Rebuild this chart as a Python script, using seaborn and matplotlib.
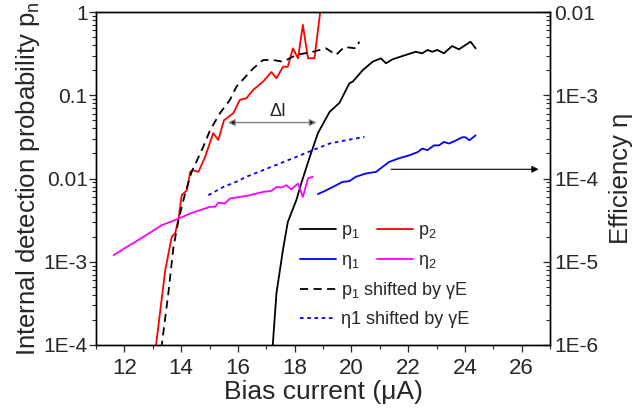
import numpy as np
import seaborn as sns
import matplotlib.pyplot as plt

# bias current (uA) and values
p1_x = [17.22, 17.36, 17.59, 17.76, 18.06, 18.24, 18.53, 18.82, 19.23, 19.58, 19.93, 20.05, 20.40,
        20.75, 21.04, 21.22, 21.45, 21.92, 22.27, 22.50, 22.68, 22.85, 23.03, 23.26, 23.55, 23.79,
        24.20, 24.38]
p1_y = [9e-5, 4.2e-4, 1.4e-3, 3.0e-3, 5.5e-3, 8.9e-3, 0.018, 0.035, 0.063, 0.081, 0.139, 0.146, 0.20,
        0.253, 0.278, 0.242, 0.27, 0.305, 0.333, 0.319, 0.35, 0.333, 0.35, 0.319, 0.39, 0.356,
        0.44, 0.366]

p2_x = [13.10, 13.44, 13.67, 13.79, 13.91, 14.02, 14.20, 14.32, 14.41, 14.61, 14.84, 15.13, 15.31,
        15.51, 15.84, 16.07, 16.30, 16.54, 16.89, 17.18, 17.36, 17.59, 17.76, 17.94, 18.12, 18.29,
        18.47, 18.70, 18.93]
p2_y = [9e-5, 7.9e-4, 2.0e-3, 2.2e-3, 3.3e-3, 6.3e-3, 7.2e-3, 0.012, 0.0126, 0.012, 0.018, 0.035, 0.029,
        0.050, 0.061, 0.088, 0.092, 0.116, 0.146, 0.19, 0.16, 0.22, 0.22, 0.366, 0.278, 0.70,
        0.278, 0.278, 1.2]

p1s_x = [13.30, 13.55, 13.73, 13.91, 14.14, 14.37, 14.78, 15.02, 15.37, 15.72, 15.95, 16.54, 16.89,
         17.24, 17.59, 18.06, 18.64, 19.11, 19.46, 19.75, 20.16, 20.28]
p1s_y = [9e-5, 4.2e-4, 1.5e-3, 3.2e-3, 6.6e-3, 0.012, 0.024, 0.038, 0.061, 0.088, 0.127, 0.21, 0.265,
         0.265, 0.253, 0.305, 0.333, 0.366, 0.305, 0.38, 0.366, 0.44]

eta1_x = [18.82, 19.11, 19.34, 19.69, 19.93, 20.16, 20.52, 20.87, 21.10, 21.33, 21.68, 22.04, 22.33,
          22.50, 22.68, 22.91, 23.09, 23.26, 23.44, 23.67, 23.91, 24.02, 24.16, 24.38]
eta1_y = [6.5e-5, 7.2e-5, 7.9e-5, 9.1e-5, 9.3e-5, 1.05e-4, 1.15e-4, 1.2e-4, 1.38e-4, 1.58e-4, 1.75e-4,
          1.9e-4, 2.07e-4, 2.29e-4, 2.19e-4, 2.5e-4, 2.5e-4, 2.75e-4, 2.63e-4, 2.85e-4, 3.13e-4,
          3.13e-4, 2.88e-4, 3.3e-4]

eta2_x = [11.62, 12.09, 12.68, 13.32, 13.91, 14.32, 14.67, 15.02, 15.20, 15.31, 15.54, 15.72, 16.07,
          16.42, 16.66, 16.89, 17.18, 17.36, 17.53, 17.71, 17.88, 18.12, 18.29, 18.47, 18.64]
eta2_y = [1.2e-5, 1.51e-5, 2.0e-5, 2.75e-5, 3.3e-5, 3.8e-5, 4.17e-5, 4.57e-5, 4.57e-5, 5.13e-5, 5.0e-5,
          5.75e-5, 6.0e-5, 6.3e-5, 6.6e-5, 6.9e-5, 7.1e-5, 7.9e-5, 7.8e-5, 8.3e-5, 7.4e-5, 8.7e-5,
          6.0e-5, 1.0e-4, 1.05e-4]

eta1s_x = [14.96, 15.48, 16.00, 16.30, 16.89, 17.47, 18.06, 18.64, 19.23, 19.81, 20.46]
eta1s_y = [6.3e-5, 7.9e-5, 9.3e-5, 1.05e-4, 1.26e-4, 1.51e-4, 1.82e-4, 2.19e-4, 2.63e-4, 2.88e-4, 3.16e-4]

left_ticks = [1e-4, 1e-3, 1e-2, 1e-1, 1]
left_labels = ['1E-4', '1E-3', '0.01', '0.1', '1']
right_ticks = [1e-6, 1e-5, 1e-4, 1e-3, 1e-2]
right_labels = ['1E-6', '1E-5', '1E-4', '1E-3', '0.01']
x_ticks = [12, 14, 16, 18, 20, 22, 24, 26]

sns.set_style('ticks')
plt.rcParams['font.family'] = ['Liberation Sans', 'DejaVu Sans']
plt.rcParams['mathtext.fontset'] = 'custom'
plt.rcParams['mathtext.rm'] = 'Liberation Sans'
plt.rcParams['mathtext.it'] = 'Liberation Sans:italic'

fig = plt.figure(figsize=(6.33, 4.2), dpi=100)
ax = fig.add_axes([96 / 633, 1 - 345 / 420, 454 / 633, 333 / 420])
ax2 = ax.twinx()

lw = 1.3
sns.lineplot(x=p1_x, y=p1_y, ax=ax, color='black', lw=lw, sort=False, estimator=None)
h_p1 = ax.lines[-1]
sns.lineplot(x=p2_x, y=p2_y, ax=ax, color='red', lw=lw, sort=False, estimator=None)
h_p2 = ax.lines[-1]
sns.lineplot(x=p1s_x, y=p1s_y, ax=ax, color='black', lw=lw, sort=False, estimator=None)
h_p1s = ax.lines[-1]
h_p1s.set_dashes([4.5, 3])

sns.lineplot(x=eta1_x, y=eta1_y, ax=ax2, color='blue', lw=lw, sort=False, estimator=None)
h_e1 = ax2.lines[-1]
sns.lineplot(x=eta2_x, y=eta2_y, ax=ax2, color='magenta', lw=lw, sort=False, estimator=None)
h_e2 = ax2.lines[-1]
sns.lineplot(x=eta1s_x, y=eta1s_y, ax=ax2, color='blue', lw=lw, sort=False, estimator=None)
h_e1s = ax2.lines[-1]
h_e1s.set_dashes([2, 2])

for a in (ax, ax2):
    a.set_xlim(11, 27)
    a.set_yscale('log')
ax.set_ylim(1e-4, 1)
ax2.set_ylim(1e-6, 1e-2)

ax.set_xticks(x_ticks)
ax.set_xticks(np.arange(11, 28, 1), minor=True)
ax.set_yticks(left_ticks, left_labels)
ax2.set_yticks(right_ticks, right_labels)

ax.tick_params(axis='x', which='major', direction='out', length=5, width=0.9, labelsize=16, pad=4)
ax.tick_params(axis='x', which='minor', direction='out', length=3, width=0.8)
ax.tick_params(axis='y', which='major', direction='out', length=5, width=0.9, labelsize=15, pad=1)
ax.tick_params(axis='y', which='minor', direction='out', length=3, width=0.8)
ax2.tick_params(axis='y', which='major', direction='in', length=5, width=0.9, labelsize=15, pad=3)
ax2.tick_params(axis='y', which='minor', direction='in', length=3, width=0.8)

for a in (ax, ax2):
    for s in a.spines.values():
        s.set_linewidth(1.0)
        s.set_color('black')

ax.set_xlabel('Bias current (\u03bcA)', fontsize=19, labelpad=1)
ax.set_ylabel('Internal detection probability p$_\\mathrm{n}$', fontsize=18.5, labelpad=1)
ax2.set_ylabel('Efficiency \u03b7', fontsize=18.5, labelpad=8)

# delta I arrow
ax.annotate('', xy=(15.65, 0.047), xytext=(18.77, 0.047),
            arrowprops=dict(arrowstyle='<|-|>', fc='black', ec='0.5', lw=1.0,
                            mutation_scale=10, shrinkA=0, shrinkB=0))
ax.text(17.4, 0.063, '\u0394I', fontsize=13, ha='center', va='center')
# arrow pointing to right axis
ax.annotate('', xy=(26.6, 0.0129), xytext=(21.4, 0.0129),
            arrowprops=dict(arrowstyle='-|>', fc='black', ec='black', lw=0.8,
                            mutation_scale=10, shrinkA=0, shrinkB=0))

leg1 = ax2.legend([h_p1, h_e1, h_p2, h_e2],
                  ['p$_1$', '\u03b7$_1$', 'p$_2$', '\u03b7$_2$'],
                  ncol=2, frameon=False, fontsize=13, handlelength=2.0, handletextpad=0.25,
                  columnspacing=1.0, labelspacing=0.62, borderaxespad=0, borderpad=0,
                  loc='upper left', bbox_to_anchor=(300 / 633, 1 - 222 / 420),
                  bbox_transform=fig.transFigure)
ax2.add_artist(leg1)
ax2.legend([h_p1s, h_e1s],
           ['p$_1$ shifted by \u03b3E', '\u03b71 shifted by \u03b3E'],
           frameon=False, fontsize=13, handlelength=2.0, handletextpad=0.25,
           labelspacing=0.55, borderaxespad=0, borderpad=0,
           loc='upper left', bbox_to_anchor=(300 / 633, 1 - 280 / 420),
           bbox_transform=fig.transFigure)

fig.savefig('out.png', dpi=100)
